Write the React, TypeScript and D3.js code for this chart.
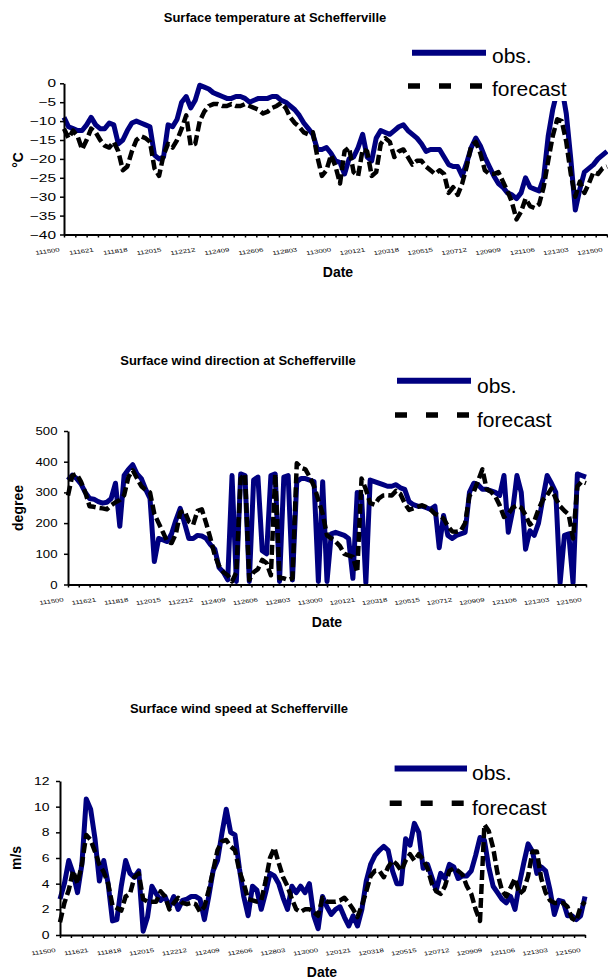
import React, { useRef, useEffect } from "react";
import * as d3 from "d3";

// one value every 6 hours, from 11/15 00h to 12/15 00h
const STEP_HOURS = 6;
const LABEL_EVERY = 45;
const MINOR_EVERY = 15;

const tickLabels = [
  "111500", "111621", "111818", "112015", "112212", "112409", "112606", "112803", "113000",
  "120121", "120318", "120515", "120712", "120909", "121106", "121303", "121500",
];

const tempObs = [
  -9, -11.5, -12, -12.5, -12.5, -11, -9, -11, -12, -12,
  -10.5, -11, -16, -15, -12.5, -10.5, -10, -10.5, -11, -11.5,
  -19, -20, -19.5, -11, -11.5, -9.5, -5, -3.5, -6.5, -4.5,
  -0.5, -1, -1.5, -2.5, -3, -3.5, -4, -4, -3.5, -3.5,
  -4, -5, -4.5, -4, -4, -4, -3.5, -3.5, -4.5, -5,
  -6, -7, -8.5, -10.5, -12, -13.5, -17.5, -17.5, -17, -18.5,
  -20.5, -21, -24, -20, -19.5, -17, -13.5, -19.5, -20.5, -14.5,
  -12.5, -13, -13.5, -12.5, -11.5, -11, -12.5, -13.5, -14.5, -16,
  -18, -17.5, -17.5, -17.5, -19.5, -21.5, -22, -22, -24.5, -21,
  -17, -14.5, -16.5, -19.5, -22, -24.5, -26.5, -27.5, -29, -29.5,
  -30.5, -29, -25, -27.5, -28, -28.5, -25, -14, -7, -2,
  -1, -8, -20, -33.5, -28, -23.5, -22.5, -21.5, -20, -19,
  -18,
];
const tempFcst = [
  -12, -14.5, -12.5, -14, -17.5, -15, -12, -13, -15, -16.5,
  -17, -15.5, -18, -23, -22, -18, -15, -14, -14.5, -15.5,
  -22.5, -24.5, -19, -16, -17, -15, -12, -8.5, -16.5, -16,
  -10, -7.5, -6, -5.5, -5.5, -6, -6, -5.5, -6, -6,
  -5.5, -6, -6.5, -7, -8, -7.5, -6.5, -6, -5.2, -6.5,
  -9, -10.5, -11.5, -13, -13.5, -13, -19.5, -24.5, -23, -19,
  -22, -26.5, -18, -17, -23.5, -24.5, -17.5, -18, -24.5, -23.5,
  -16, -14.5, -15.5, -19.5, -18, -17.5, -19.5, -21.5, -20.5, -20.5,
  -22, -23, -24, -23, -24, -29, -27.5, -29.5, -26.5, -22,
  -16.5, -15.5, -18.5, -23, -24, -24, -23.5, -26, -28.5, -31.5,
  -36, -34, -30.5, -32.5, -33, -32, -27.5, -20.5, -14, -9.5,
  -10, -15.5, -24, -30, -26, -29, -26.5, -23.5, -24, -22.5,
  -22,
];

const dirObs = [
  340, 356, 345, 328, 300, 280, 278, 270, 265, 268,
  280, 330, 190, 355, 375, 390, 360, 345, 310, 280,
  75, 150, 145, 140, 165, 210, 248, 200, 150, 150,
  160, 158, 150, 130, 115, 55, 40, 15, 355, 10,
  360, 355, 10, 340, 350, 110, 100, 355, 360, 10,
  350, 355, 15, 335, 345, 345, 340, 335, 10, 335,
  10, 165, 170, 165, 160, 150, 20, 300, 290, 5,
  340, 335, 330, 325, 320, 320, 325, 315, 310, 270,
  260, 255, 255, 250, 245, 255, 120, 225, 160, 150,
  160, 165, 170, 300, 330, 325, 310, 310, 305, 300,
  290, 355, 170, 240, 355, 300, 115, 175, 160, 200,
  280, 355, 330, 300, 5, 160, 165, 5, 360, 355,
  350,
];
const dirFcst = [
  290, 355, 360, 335, 300, 255, 253, 250, 248, 245,
  258, 268, 275, 291, 350, 372, 345, 320, 308, 300,
  230, 200, 170, 140, 135, 165, 235, 240, 205, 195,
  240, 245, 200, 150, 95, 60, 40, 30, 10, 40,
  345, 360, 15, 40, 50, 80, 70, 30, 360, 20,
  20, 15, 20, 395, 380, 375, 350, 320, 275, 230,
  160, 150, 140, 125, 100, 95, 90, 40, 345, 310,
  265, 260, 280, 290, 291, 290, 305, 295, 265, 243,
  248, 253, 258, 252, 244, 230, 225, 215, 190, 173,
  172, 175, 200, 290, 302, 338, 375, 310, 302, 287,
  258, 220, 230, 250, 257, 250, 226, 195, 205, 245,
  275, 291, 313, 280, 255, 240, 228, 150, 320, 335,
  330,
];

const spdObs = [
  2.8, 4, 5.8, 4.8, 3.3, 5.5, 10.6, 9.8, 7.5, 4.2,
  5.8, 4, 1.1, 1.2, 3.8, 5.8, 4.8, 4.5, 5, 0.3,
  1.4, 3.8, 3.2, 2.7, 3, 2.2, 3, 2, 2.7, 2.8,
  3, 3, 2.8, 1.2, 3, 5, 5.8, 7.9, 9.8, 8,
  7.8, 5.2, 3, 1.5, 3.8, 3.5, 2, 3.3, 4.8, 4.6,
  4, 2.9, 2, 3.8, 3.3, 3.8, 3.3, 4, 1.5, 0.5,
  3, 2.2, 1.6, 2, 2.2, 1.4, 0.7, 1.5, 0.7, 2,
  4.2, 5.5, 6.2, 6.6, 6.9, 6.6, 5, 4, 4, 7.5,
  7, 8.7, 8, 5.2, 5.5, 4.5, 3.5, 4.8, 4.4, 5.5,
  5.3, 4.4, 4.6, 4.6, 5, 6.2, 7.6, 7.4, 5.3, 3.8,
  3.3, 2.8, 2.5, 3, 2, 4, 5.6, 7.1, 6.5, 4.8,
  5.3, 5, 3.5, 1.6, 2.7, 2.6, 1.5, 1.5, 1.2, 1.5,
  3,
];
const spdFcst = [
  1, 2.5, 3.5, 5, 4, 5.5, 7.8, 7.4, 6.5, 5.5,
  4.9, 4, 2.3, 2.1, 1.9, 3, 3.2, 4.5, 4.8, 2.8,
  2.6, 2.6, 2.6, 3.4, 3, 2, 2.5, 2.9, 2.5, 2.4,
  2.5, 2.4, 1.8, 2.2, 3.5, 5, 6.6, 7.3, 7.4, 6.9,
  6.6, 5, 4, 2.8, 2.7, 2.6, 2.7, 4.2, 6, 6.8,
  5.6, 4.5, 3.8, 2.8, 2, 1.8, 2, 2, 1.8, 1.5,
  2.9, 2.6, 2.6, 2.6, 2.7, 2.9, 2.5, 2, 1.4, 2.3,
  3.4, 4.6, 5, 5, 4.5, 5.3, 5.8, 5.5, 5, 5.8,
  6.3, 5.8, 6.3, 5.9, 5.2, 4, 3.4, 3.2, 3.8, 5,
  5.2, 5, 4.7, 3.8, 3.2, 2, 1.1, 8.6, 8.1, 6.8,
  4.8, 3.5, 3, 3.7, 4.4, 3.2, 3.5, 4.6, 6.5, 6.5,
  4.4, 3.3, 2.7, 2.5, 2.5, 2.5, 2.2, 1.3, 1.1, 2.2,
  2.6,
];

const FONT = "'Liberation Sans', Arial, Helvetica, sans-serif";
const NAVY = "#000080";
const TOTAL_HOURS = (tickLabels.length - 1) * LABEL_EVERY;

type PanelCfg = {
  title: string;
  titleX: number;
  titleY: number;
  yTitle: string;
  yTitleX: number;
  yTitleY: number;
  dateX: number;
  dateY: number;
  x0: number;
  x1: number;
  yTop: number;
  yBottom: number;
  yDomain: [number, number];
  yTicks: number[];
  yStretch: number;
  yPad: number;
  legend: {
    box: [number, number, number, number];
    obs: [number, number, number];
    fc: [number, number, number];
    textX: number;
    obsTextY: number;
    fcTextY: number;
  };
};

function Panel({ cfg, obs, fcst }: { cfg: PanelCfg; obs: number[]; fcst: number[] }) {
  const ref = useRef<SVGGElement>(null);

  useEffect(() => {
    const g = d3.select(ref.current);
    g.selectAll("*").remove();

    const x = d3.scaleLinear().domain([0, TOTAL_HOURS]).range([cfg.x0, cfg.x1]);
    const y = d3.scaleLinear().domain(cfg.yDomain).range([cfg.yBottom, cfg.yTop]);

    const line = d3
      .line<number>()
      .x((d, i) => x(i * STEP_HOURS))
      .y((d) => y(d));

    g.append("path")
      .datum(obs)
      .attr("d", line)
      .attr("fill", "none")
      .attr("stroke", NAVY)
      .attr("stroke-width", 5)
      .attr("stroke-linejoin", "round");

    g.append("path")
      .datum(fcst)
      .attr("d", line)
      .attr("fill", "none")
      .attr("stroke", "#000")
      .attr("stroke-width", 4.5)
      .attr("stroke-dasharray", "10,4")
      .attr("stroke-linejoin", "round");

    // x axis: minor marks every 15 h, labels every 45 h
    const xAxis = d3
      .axisBottom(x)
      .tickValues(d3.range(0, TOTAL_HOURS + 1, MINOR_EVERY))
      .tickSize(3)
      .tickSizeOuter(0)
      .tickFormat(() => "");
    const xg = g.append("g").attr("transform", `translate(0,${cfg.yBottom})`).call(xAxis);
    xg.select(".domain").attr("stroke-width", 2);
    xg.selectAll(".tick line").attr("stroke-width", 1.5);

    tickLabels.forEach((t, k) => {
      g.append("text")
        .attr(
          "transform",
          `translate(${x(k * LABEL_EVERY) - 4},${cfg.yBottom + 17}) scale(1.4,1) rotate(-11)`
        )
        .attr("text-anchor", "end")
        .attr("font-family", FONT)
        .attr("font-size", 5.5)
        .attr("fill", "#000")
        .text(t);
    });

    // y axis
    const yAxis = d3.axisLeft(y).tickValues(cfg.yTicks).tickSize(4).tickSizeOuter(0);
    const yg = g.append("g").attr("transform", `translate(${cfg.x0},0)`).call(yAxis);
    yg.select(".domain").attr("stroke-width", 2);
    yg.selectAll(".tick line").attr("stroke-width", 1.5);
    yg.selectAll(".tick text")
      .attr("x", 0)
      .attr("font-family", FONT)
      .attr("font-size", 11)
      .attr("fill", "#000")
      .attr("transform", `translate(${-cfg.yPad},0) scale(${cfg.yStretch},1)`);

    // titles
    g.append("text")
      .attr("x", cfg.titleX)
      .attr("y", cfg.titleY)
      .attr("text-anchor", "middle")
      .attr("font-family", FONT)
      .attr("font-weight", "bold")
      .attr("font-size", 13)
      .text(cfg.title);

    g.append("text")
      .attr("transform", `translate(${cfg.yTitleX},${cfg.yTitleY}) rotate(-90)`)
      .attr("text-anchor", "middle")
      .attr("font-family", FONT)
      .attr("font-weight", "bold")
      .attr("font-size", 14)
      .text(cfg.yTitle);

    g.append("text")
      .attr("x", cfg.dateX)
      .attr("y", cfg.dateY)
      .attr("text-anchor", "middle")
      .attr("font-family", FONT)
      .attr("font-weight", "bold")
      .attr("font-size", 14)
      .text("Date");

    // legend sits on a white box above the lines
    const lg = cfg.legend;
    g.append("rect")
      .attr("x", lg.box[0])
      .attr("y", lg.box[1])
      .attr("width", lg.box[2])
      .attr("height", lg.box[3])
      .attr("fill", "#fff");
    g.append("line")
      .attr("x1", lg.obs[0])
      .attr("x2", lg.obs[1])
      .attr("y1", lg.obs[2])
      .attr("y2", lg.obs[2])
      .attr("stroke", NAVY)
      .attr("stroke-width", 6);
    g.append("line")
      .attr("x1", lg.fc[0])
      .attr("x2", lg.fc[1])
      .attr("y1", lg.fc[2])
      .attr("y2", lg.fc[2])
      .attr("stroke", "#000")
      .attr("stroke-width", 5.5)
      .attr("stroke-dasharray", "12,19");
    [
      ["obs.", lg.obsTextY],
      ["forecast", lg.fcTextY],
    ].forEach(([t, ty]) => {
      g.append("text")
        .attr("x", lg.textX)
        .attr("y", ty as number)
        .attr("font-family", FONT)
        .attr("font-size", 21)
        .attr("fill", "#000")
        .text(t as string);
    });
  }, [cfg, obs, fcst]);

  return <g ref={ref} />;
}

const tempCfg: PanelCfg = {
  title: "Surface temperature at Schefferville",
  titleX: 275,
  titleY: 21.5,
  yTitle: "°C",
  yTitleX: 23,
  yTitleY: 160,
  dateX: 338,
  dateY: 277,
  x0: 64,
  x1: 607,
  yTop: 83.3,
  yBottom: 234.5,
  yDomain: [-40, 0],
  yTicks: d3.range(-40, 1, 5),
  yStretch: 1.4,
  yPad: 8,
  legend: {
    box: [403, 36, 205, 65],
    obs: [412, 486, 52.7],
    fc: [408, 486, 86],
    textX: 492,
    obsTextY: 62.7,
    fcTextY: 96,
  },
};

const dirCfg: PanelCfg = {
  title: "Surface wind direction at Schefferville",
  titleX: 238,
  titleY: 365,
  yTitle: "degree",
  yTitleX: 22.5,
  yTitleY: 508,
  dateX: 327,
  dateY: 627,
  x0: 68,
  x1: 586,
  yTop: 431,
  yBottom: 584.5,
  yDomain: [0, 500],
  yTicks: d3.range(0, 501, 100),
  yStretch: 1.2,
  yPad: 10.5,
  legend: {
    box: [388, 368, 180, 62],
    obs: [397, 471, 380.7],
    fc: [395, 471, 415],
    textX: 477,
    obsTextY: 392.7,
    fcTextY: 426.7,
  },
};

const spdCfg: PanelCfg = {
  title: "Surface wind speed at Schefferville",
  titleX: 239,
  titleY: 713,
  yTitle: "m/s",
  yTitleX: 21,
  yTitleY: 858,
  dateX: 322,
  dateY: 977,
  x0: 60,
  x1: 585,
  yTop: 781,
  yBottom: 935,
  yDomain: [0, 12],
  yTicks: d3.range(0, 13, 2),
  yStretch: 1.27,
  yPad: 10.4,
  legend: {
    box: [384, 756, 180, 64],
    obs: [394.6, 467, 768.5],
    fc: [389.7, 467, 803.3],
    textX: 472,
    obsTextY: 780,
    fcTextY: 815,
  },
};

export default function App() {
  return (
    <svg
      width={608}
      height={979}
      style={{ position: "absolute", left: 0, top: 0, background: "#fff" }}
    >
      <Panel cfg={tempCfg} obs={tempObs} fcst={tempFcst} />
      <Panel cfg={dirCfg} obs={dirObs} fcst={dirFcst} />
      <Panel cfg={spdCfg} obs={spdObs} fcst={spdFcst} />
    </svg>
  );
}
